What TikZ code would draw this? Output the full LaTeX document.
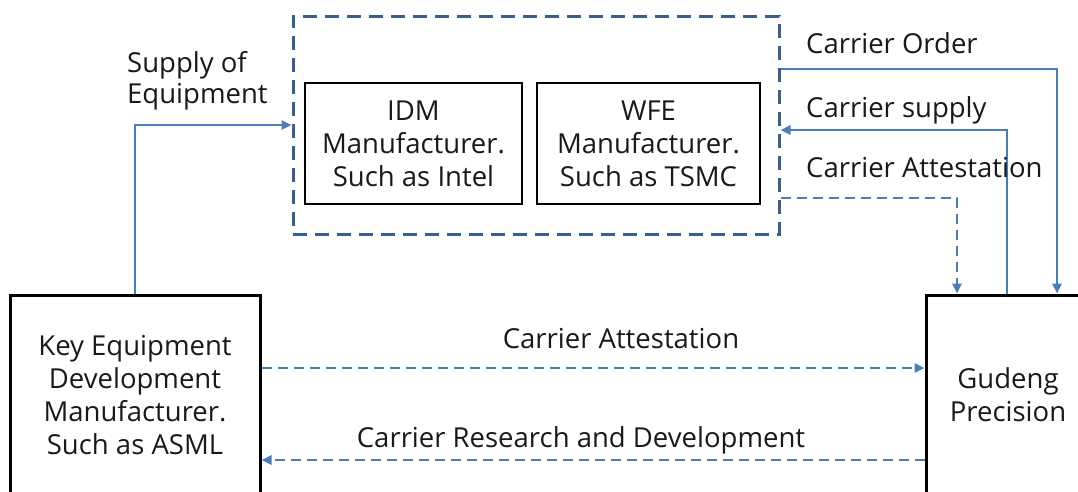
\documentclass[tikz,border=0pt]{standalone}
\usepackage{fontspec}
\setmainfont{Open Sans}
\usetikzlibrary{arrows.meta}
\definecolor{arrowblue}{HTML}{4A7EBB}
\definecolor{groupblue}{HTML}{3A5F8C}
\tikzset{
  lbl/.style={font=\fontsize{27.5}{33}\selectfont, inner sep=0pt, text=black!90},
  innerbox/.style={draw=black, line width=1.5pt, align=center, inner sep=0pt, font=\fontsize{27.5}{33}\selectfont, text=black!90},
  bigbox/.style={draw=black, line width=3pt, align=center, inner sep=0pt, font=\fontsize{27.5}{33}\selectfont, text=black!90, minimum height=200pt},
  groupbox/.style={draw=groupblue, line width=3pt, dash pattern=on 14pt off 8pt, minimum width=486pt, minimum height=218pt, inner sep=0pt},
  arr/.style={draw=arrowblue, line width=2.5pt, -{Triangle[length=10pt,width=9pt]}},
  darr/.style={arr, dash pattern=on 10pt off 6pt}
}
\begin{document}
\begin{tikzpicture}[x=1pt,y=-1pt]
\useasboundingbox (0,0) rectangle (1078,491);
\clip (0,0) rectangle (1078,491);
% group
\node[groupbox] (grp) at (536,125) {};
\node[innerbox, minimum width=217pt, minimum height=121pt] (idm) at (413.5,143.5) {IDM\\Manufacturer.\\Such as Intel};
\node[innerbox, minimum width=223pt, minimum height=121pt] (wfe) at (648.5,143.5) {WFE\\Manufacturer.\\Such as TSMC};
% big boxes
\node[bigbox, minimum width=250pt] (ke) at (135,395) {Key Equipment\\Development\\Manufacturer.\\Such as ASML};
\node[bigbox, minimum width=164pt] (gp) at (1008,395) {Gudeng\\Precision};
% connectors
\draw[arr] (ke.north) |- (grp.west);
\draw[arr] (grp.east |- 0,69) -| (gp.north -| 1057,0);
\draw[arr] (gp.north -| 1007,0) |- (grp.east |- 0,130);
\draw[darr] (grp.east |- 0,198) -| (gp.north -| 957,0);
\draw[darr] (ke.east |- 0,368) -- (gp.west |- 0,368);
\draw[darr] (gp.west |- 0,460) -- (ke.east |- 0,460);
% labels
\node[lbl, anchor=base west, align=left] (l1) at (127,72) {Supply of};
\node[lbl, anchor=base west, align=left] (l1b) at (127,103) {Equipment};
\node[lbl, anchor=base west] (l2) at (806,53) {Carrier Order};
\node[lbl, anchor=base west] (l3) at (806,117) {Carrier supply};
\node[lbl, anchor=base west] (l4) at (806,177) {Carrier Attestation};
\node[lbl, anchor=base] (l5) at (621,348) {Carrier Attestation};
\node[lbl, anchor=base] (l6) at (581,447) {Carrier Research and Development};
\end{tikzpicture}
\end{document}
